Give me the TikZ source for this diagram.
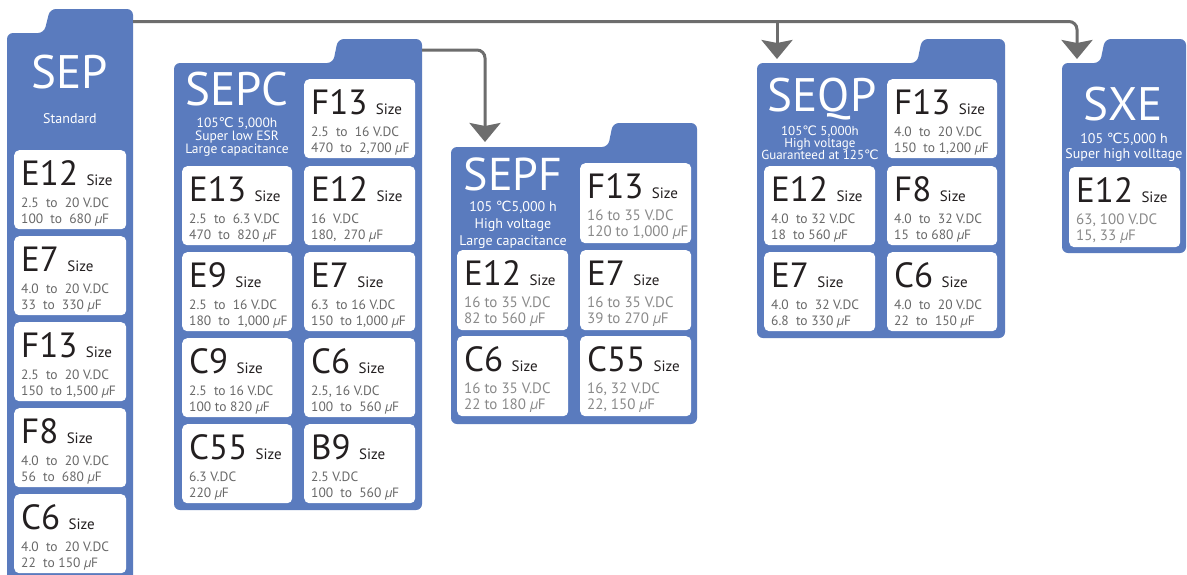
\documentclass[tikz,border=0pt]{standalone}
\usepackage{fontspec}
\setmainfont{PT Sans}
\newfontfamily\djv{DejaVu Sans}
\usetikzlibrary{arrows.meta}
\definecolor{folderblue}{HTML}{5A7BBE}
\definecolor{conncol}{HTML}{6D6D6D}
\definecolor{labcol}{HTML}{231F20}
\definecolor{valcol}{HTML}{686868}
\definecolor{valcolb}{HTML}{8A8A8A}
\newcommand\setfs[1]{\fontsize{#1}{#1}\selectfont}
\newcommand\degc{{\djv ℃}}
\newcommand\muf{{\itshape µ}}
\tikzset{
  folder/.style={fill=folderblue, rounded corners=6pt},
  card/.style={fill=white, rounded corners=5pt, inner sep=0pt},
  bigsz/.style={inner sep=0pt, text=labcol, font=\setfs{35}},
  smallsz/.style={inner sep=0pt, text=labcol, font=\setfs{15}},
  valA/.style={inner sep=0pt, text=valcol, font=\setfs{13.5}},
  valB/.style={inner sep=0pt, text=valcolb, font=\setfs{15}},
  ttl/.style={inner sep=0pt, text=white, anchor=base, font=\setfs{47}},
  sub/.style={inner sep=0pt, text=white, anchor=base, font=\setfs{13.5}},
  subB/.style={inner sep=0pt, text=white, anchor=base, font=\setfs{14}},
  conn/.style={draw=conncol, line width=3pt, -{Stealth[length=19pt,width=31pt,inset=3pt]}},
}
\newcommand\sizecard[9]{%
  \node[card, minimum width=#4pt, minimum height=#5pt, anchor=north west] (#1) at (#2,#3) {};
  \node[bigsz, anchor=base west] (#1-n) at ({#2+7},{#3+35}) {#6};
  \node[smallsz, anchor=base west] (#1-s) at ([xshift=8pt]#1-n.base east) {Size};
  \node[#9, anchor=base west] (#1-v) at ({#2+7},{#3+57}) {#7};
  \node[#9, anchor=base west] (#1-c) at ({#2+7},{#3+73}) {#8};
}
\begin{document}
\begin{tikzpicture}[x=1pt,y=-1pt]
\useasboundingbox (0,0) rectangle (1187,574);
\clip (0,0) rectangle (1187,574);
\fill[white] (0,0) rectangle (1187,574);
% folders
\fill[folder] (7,620) -- (7,33) -- (44,33) -- (50,9) -- (133,9) -- (133,620) -- cycle;
\fill[folder] (174,510) -- (174,63) -- (333,63) -- (338,39) -- (422,39) -- (422,510) -- cycle;
\fill[folder] (451,424) -- (451,147) -- (608,147) -- (613,123) -- (697,123) -- (697,424) -- cycle;
\fill[folder] (757,338) -- (757,63) -- (917,63) -- (922,39) -- (1005,39) -- (1005,338) -- cycle;
\fill[folder] (1062,253) -- (1062,63) -- (1100,63) -- (1105,39) -- (1186,39) -- (1186,253) -- cycle;
% connectors
\coordinate (sepout) at (133,21.5);
\coordinate (seqpin) at (777,59);
\coordinate (sxein) at (1077,59);
\coordinate (sepcout) at (422,50);
\coordinate (sepfin) at (485,142);
\draw[conn, rounded corners=8pt] (sepout) -- (sxein |- sepout) -- (sxein);
\draw[conn] (seqpin |- sepout) -- (seqpin);
\draw[conn, rounded corners=8pt] (sepcout) -- (sepfin |- sepcout) -- (sepfin);
% SEP
\node[ttl] (sept) at (70,88) {SEP};
\node[sub, font=\setfs{14}] (seps) at (70,123) {Standard};
\sizecard{sep1}{14}{150}{112}{79}{E12}{2.5~ to~ 20 V.DC}{100~ to~ 680 \muf F}{valA}
\sizecard{sep2}{14}{236}{112}{79}{E7}{4.0~ to~ 20 V.DC}{33~ to~ 330 \muf F}{valA}
\sizecard{sep3}{14}{322}{112}{79}{F13}{2.5~ to~ 20 V.DC}{150~ to 1,500 \muf F}{valA}
\sizecard{sep4}{14}{408}{112}{79}{F8}{4.0~ to~ 20 V.DC}{56~ to~ 680 \muf F}{valA}
\sizecard{sep5}{14}{494}{112}{79}{C6}{4.0~ to~ 20 V.DC}{22~ to 150 \muf F}{valA}
% SEPC
\node[ttl] (sepct) at (237,105) {SEPC};
\node[sub] (sepcs1) at (237,127) {105\degc\ 5,000h};
\node[sub] (sepcs2) at (237,140) {Super low ESR};
\node[sub] (sepcs3) at (237,153) {Large capacitance};
\sizecard{sepc1}{304}{79}{111}{79}{F13}{2.5~ to~ 16 V.DC}{470~ to~ 2,700 \muf F}{valA}
\sizecard{sepc2}{182}{166}{110}{79}{E13}{2.5~ to~ 6.3 V.DC}{470~ to~ 820 \muf F}{valA}
\sizecard{sepc3}{304}{166}{111}{79}{E12}{16~ V.DC}{180,~ 270 \muf F}{valA}
\sizecard{sepc4}{182}{252}{110}{79}{E9}{2.5~ to~ 16 V.DC}{180~ to~ 1,000 \muf F}{valA}
\sizecard{sepc5}{304}{252}{111}{79}{E7}{6.3~ to 16 V.DC}{150~ to 1,000 \muf F}{valA}
\sizecard{sepc6}{182}{338}{110}{79}{C9}{2.5~ to 16 V.DC}{100 to 820 \muf F}{valA}
\sizecard{sepc7}{304}{338}{111}{79}{C6}{2.5, 16 V.DC}{100~ to~ 560 \muf F}{valA}
\sizecard{sepc8}{182}{424}{110}{79}{C55}{6.3 V.DC}{220 \muf F}{valA}
\sizecard{sepc9}{304}{424}{111}{79}{B9}{2.5 V.DC}{100~ to~ 560 \muf F}{valA}
% SEPF
\node[ttl, font=\setfs{46}] (sepft) at (513,190) {SEPF};
\node[subB] (sepfs1) at (513,211) {105 \degc5,000 h};
\node[subB] (sepfs2) at (513,228) {High voltage};
\node[subB] (sepfs3) at (513,245) {Large capacitance};
\sizecard{sepf1}{580}{163}{111}{80}{F13}{16 to 35 V.DC}{120 to 1,000 \muf F}{valB}
\sizecard{sepf2}{457}{250}{111}{80}{E12}{16 to 35 V.DC}{82 to 560 \muf F}{valB}
\sizecard{sepf3}{580}{250}{111}{80}{E7}{16 to 35 V.DC}{39 to 270 \muf F}{valB}
\sizecard{sepf4}{457}{336}{111}{80}{C6}{16 to 35 V.DC}{22 to 180 \muf F}{valB}
\sizecard{sepf5}{580}{336}{111}{80}{C55}{16, 32 V.DC}{22, 150 \muf F}{valB}
% SEQP
\node[ttl] (seqpt) at (822,111) {SEQP};
\node[sub, font=\setfs{13}] (seqps1) at (820,135) {105\degc\ 5,000h};
\node[sub, font=\setfs{13}] (seqps2) at (820,147) {High voltage};
\node[sub, font=\setfs{13}] (seqps3) at (820,159) {Guaranteed at 125\degc};
\sizecard{seqp1}{887}{79}{110}{79}{F13}{4.0~ to~ 20 V.DC}{150~ to 1,200 \muf F}{valA}
\sizecard{seqp2}{764}{166}{111}{79}{E12}{4.0~ to 32 V.DC}{18~ to 560 \muf F}{valA}
\sizecard{seqp3}{887}{166}{110}{79}{F8}{4.0~ to~ 32 V.DC}{15~ to 680 \muf F}{valA}
\sizecard{seqp4}{764}{252}{111}{79}{E7}{4.0~ to~ 32 V.DC}{6.8~ to 330 \muf F}{valA}
\sizecard{seqp5}{887}{252}{110}{79}{C6}{4.0~ to~ 20 V.DC}{22~ to~ 150 \muf F}{valA}
% SXE
\node[ttl] (sxet) at (1123,120) {SXE};
\node[sub, font=\setfs{14}] (sxes1) at (1124,143) {105 \degc5,000 h};
\node[sub, font=\setfs{14}] (sxes2) at (1124,158) {Super high volltage};
\sizecard{sxe1}{1069}{167}{111}{80}{E12}{63, 100 V.DC}{15, 33 \muf F}{valB}
\end{tikzpicture}
\end{document}
